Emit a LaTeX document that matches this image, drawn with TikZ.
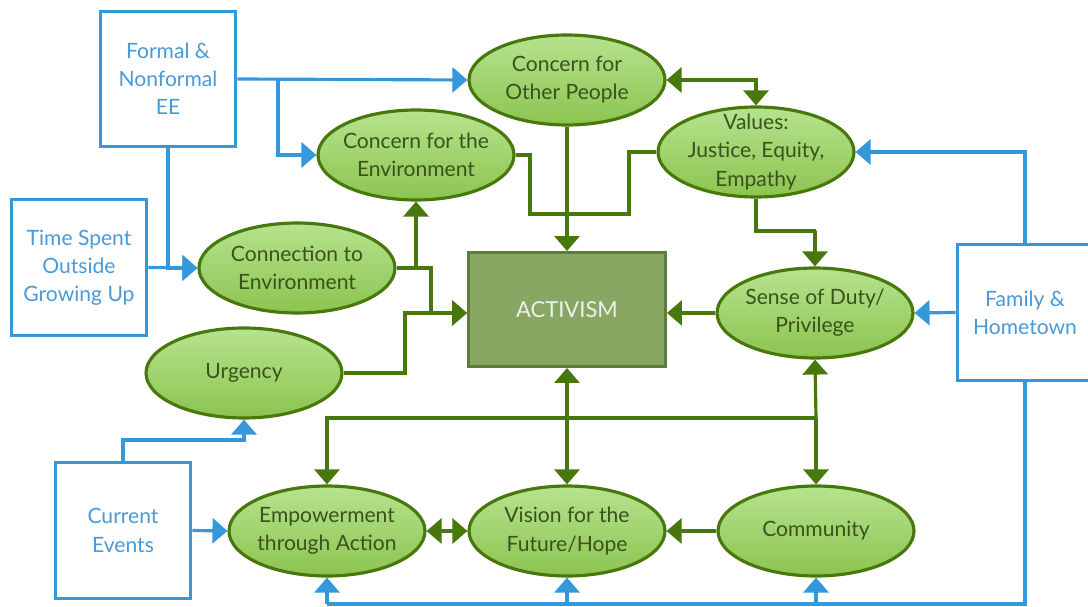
\documentclass[tikz,border=0pt]{standalone}
\usepackage{fontspec}
\setmainfont{Lato}
\usepackage{xcolor}
\usepackage{tikz}
\usetikzlibrary{shapes,arrows.meta}

\definecolor{eeblue}{RGB}{52,152,219}
\definecolor{eetext}{RGB}{74,154,214}
\definecolor{leaf}{RGB}{72,120,12}
\definecolor{leaftop}{RGB}{182,227,142}
\definecolor{leafbot}{RGB}{140,196,80}
\definecolor{leaftext}{RGB}{58,82,28}
\definecolor{moss}{RGB}{135,167,98}
\definecolor{mossedge}{RGB}{92,126,58}

\begin{document}
\begin{tikzpicture}[x=0.02cm,y=-0.02cm,
		bubble/.style={ellipse,draw=leaf,line width=1.8pt,top color=leaftop,bottom color=leafbot,
			minimum width=3.92cm,minimum height=1.8cm,inner xsep=-12pt,inner ysep=-6pt,align=center,text=leaftext,
			font=\fontsize{12}{16}\selectfont},
		source/.style={rectangle,draw=eeblue,line width=1.7pt,fill=white,minimum width=2.72cm,
			minimum height=2.72cm,inner sep=0pt,align=center,text=eetext,font=\fontsize{12}{16}\selectfont},
		bl/.style={draw=eeblue,line width=1.8pt,-{Triangle[length=0.3cm,width=0.5cm]}},
		blpath/.style={draw=eeblue,line width=1.8pt},
		gr/.style={draw=leaf,line width=1.8pt,-{Triangle[length=0.3cm,width=0.5cm]}},
		grboth/.style={draw=leaf,line width=1.8pt,{Triangle[length=0.3cm,width=0.5cm]}-{Triangle[length=0.3cm,width=0.5cm]}},
		grpath/.style={draw=leaf,line width=1.8pt}]
		\useasboundingbox (0,0) rectangle (1088,607);

		\node[source] (fee) at (168,79) {Formal \&\\Nonformal\\EE};
		\node[source] (tso) at (79,267.5) {Time Spent\\Outside\\Growing Up};
		\node[source] (fam) at (1025,312.5) {Family \&\\Hometown};
		\node[source] (ce) at (123,530.5) {Current\\Events};

		\foreach \n/\x/\y/\t in {coop/567/80/{Concern for\\Other People},
				cenv/416/155/{Concern for the\\Environment},
				val/756/152/{Values:\\Justice, Equity,\\Empathy},
				conn/297/268/{Connection to\\Environment},
				sod/815/313/{Sense of Duty/\\Privilege},
				urg/244/373/{Urgency},
				emp/327/531/{Empowerment\\through Action},
				vis/567/531/{Vision for the\\Future/Hope},
				com/816/531/{Community}}
			\node[bubble] (\n) at (\x,\y) {\t};

		\node[rectangle,draw=mossedge,line width=1.7pt,fill=moss,minimum width=3.94cm,minimum height=2.28cm,
			text=white!94!black,font=\fontsize{12.5}{16}\selectfont] (act) at (567,309.5) {ACTIVISM};

		\coordinate (actin) at (act.west |- sod.west);
		\coordinate (hub) at (816,418);
		\coordinate (base) at (327,604);

		\draw[bl] (fee.east) -- (coop.west);
		\draw[bl] (278,79) |- (cenv.west);
		\draw[bl] (fee.south) |- (conn.west);
		\draw[bl] (tso.east) -- (conn.west);
		\draw[bl] (fam.north) |- (val.east);
		\draw[bl] (fam.west) -- (sod.east);
		\draw[bl] (ce.north) -- (123,440) -| (urg.south);
		\draw[bl] (ce.east) -- (emp.west);
		\draw[blpath] (fam.south) |- (base);
		\foreach \n in {emp,vis,com}
			\draw[bl] (\n.south |- base) -- (\n.south);

		\draw[grboth] (coop.east) -| (val.north);
		\draw[gr] (coop.south) -- (act.north);
		\draw[grpath] (cenv.east) -| (530,214) -| (629,152) -- (val.west);
		\draw[gr] (val.south) |- (816,231) -| (sod.north);
		\draw[gr] (sod.west) -- (sod.west -| act.east);
		\draw[gr] (conn.east) -| (431,313) -- (actin);
		\draw[gr] (cenv.south |- conn.east) -- (cenv.south);
		\draw[gr] (urg.east) -| (405,313) -- (actin);
		\draw[grboth] (act.south) -- (vis.north);
		\draw[gr] (hub) -- (sod.south);
		\draw[gr] (hub) -| (emp.north);
		\draw[gr] (hub) -- (com.north);
		\draw[grboth] (emp.east) -- (vis.west);
		\draw[gr] (com.west) -- (vis.east);
\end{tikzpicture}
\end{document}
